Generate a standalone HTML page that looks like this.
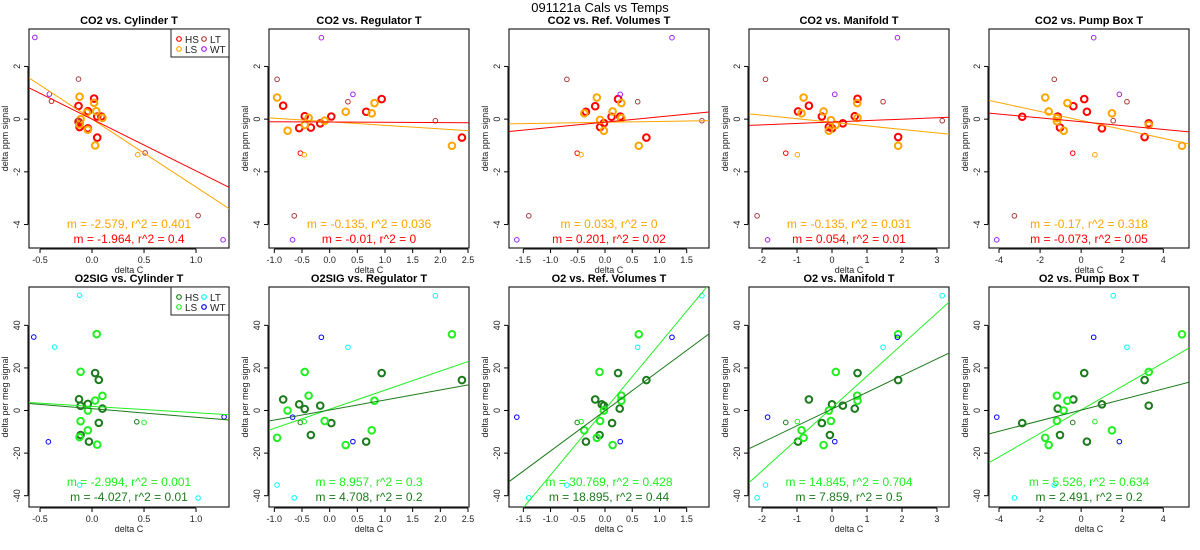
<!DOCTYPE html>
<html><head><meta charset="utf-8"><style>
html,body{margin:0;padding:0;background:#fff;}
svg{display:block;font-family:"Liberation Sans",sans-serif;}
</style></head><body>
<svg id="chart" width="1200" height="550" viewBox="0 0 1200 550" xmlns="http://www.w3.org/2000/svg">
<rect width="1200" height="550" fill="#fff"/>
<text x="600" y="12" text-anchor="middle" font-size="13">091121a   Cals vs Temps</text>
</svg>
<script>
// ---- CO2 data (top row) ----
const c1_hs=[[-0.13,0.5],[0.02,0.78],[-0.04,0.3],[0.05,0.1],[0.09,0.1],[-0.13,-0.1],[-0.12,-0.3],[-0.04,-0.35],[0.05,-0.7],[-0.12,-0.15]];
const c1_ls=[[-0.12,0.85],[0.02,0.62],[0.04,0.3],[-0.05,0.25],[-0.11,0.0],[0.1,0.05],[-0.12,-0.2],[-0.04,-0.4],[0.03,-1.0]];
const c1_lt=[[-0.13,1.52],[-0.39,0.68],[-0.13,-0.05],[0.51,-1.28],[1.02,-3.66]];
const c1_lst=[[0.44,-1.35]];
const c1_hst=[];
const c1_wt=[[-0.55,3.1],[-0.41,0.95],[1.26,-4.58]];
const c2_hs=[[-0.84,0.51],[-0.45,0.11],[-0.55,-0.34],[-0.34,-0.32],[-0.17,-0.16],[0.03,0.1],[0.66,0.28],[0.94,0.76],[2.39,-0.7]];
const c2_ls=[[-0.95,0.82],[-0.76,-0.44],[-0.45,-0.22],[-0.38,0.05],[-0.09,-0.06],[0.29,0.28],[0.76,0.22],[0.81,0.61],[2.21,-1.01]];
const c2_lt=[[-0.95,1.51],[0.33,0.66],[1.91,-0.06],[-0.64,-3.67]];
const c2_hst=[[-0.53,-1.29]];
const c2_lst=[[-0.46,-1.35]];
const c2_wt=[[-0.15,3.09],[0.42,0.94],[-0.67,-4.58]];
const c3_hs=[[-0.18,0.49],[-0.35,0.28],[0.12,0.09],[0.24,0.76],[0.28,0.1],[-0.09,-0.3],[-0.02,-0.15],[0.76,-0.7]];
const c3_ls=[[-0.15,0.82],[-0.38,0.22],[-0.09,-0.03],[-0.02,-0.44],[0.14,0.29],[0.3,0.61],[0.3,0.04],[0.62,-1.01]];
const c3_lt=[[-0.7,1.51],[0.6,0.66],[1.78,-0.06],[-1.4,-3.67]];
const c3_hst=[[-0.51,-1.29]];
const c3_lst=[[-0.44,-1.35]];
const c3_wt=[[1.23,3.09],[0.28,0.94],[-1.62,-4.58]];
const c4_hs=[[-0.97,0.29],[-0.66,0.51],[-0.29,0.1],[-0.09,-0.3],[0.0,-0.35],[0.31,-0.16],[0.65,0.11],[0.73,0.77],[1.89,-0.68]];
const c4_ls=[[-0.81,0.82],[-0.87,0.22],[-0.24,0.29],[-0.03,-0.04],[0.11,-0.22],[-0.09,-0.44],[0.72,0.61],[0.73,0.05],[1.89,-1.01]];
const c4_lt=[[-1.9,1.51],[1.46,0.66],[3.15,-0.06],[-2.14,-3.67]];
const c4_hst=[[-1.32,-1.29]];
const c4_lst=[[-0.99,-1.35]];
const c4_wt=[[1.87,3.09],[0.08,0.94],[-1.84,-4.58]];
const c5_hs=[[-2.87,0.09],[-1.14,0.1],[-1.03,-0.32],[-0.38,0.49],[0.15,0.76],[0.28,0.28],[1.01,-0.35],[3.09,-0.68],[3.29,-0.16]];
const c5_ls=[[-1.75,0.82],[-1.58,0.29],[-1.18,0.04],[-1.18,-0.08],[-0.85,-0.44],[-0.67,0.61],[1.5,0.22],[3.29,-0.22],[4.91,-1.01]];
const c5_lt=[[-1.31,1.51],[2.23,0.66],[1.56,-0.06],[-3.25,-3.67]];
const c5_hst=[[-0.41,-1.29]];
const c5_lst=[[0.67,-1.35]];
const c5_wt=[[0.61,3.09],[1.86,0.94],[-4.11,-4.58]];
// ---- O2 data (bottom row) ----
const o1_hs=[[-0.125,5.3],[-0.11,2.2],[-0.04,3.1],[0.03,17.6],[0.065,14.4],[0.1,0.9],[0.065,-5.8],[-0.11,-11.5],[-0.03,-14.6]];
const o1_ls=[[0.045,35.9],[-0.11,18.2],[0.1,6.9],[0.03,4.7],[-0.04,0],[-0.11,-5.0],[-0.04,-9.3],[-0.12,-12.5],[0.05,-16]];
const o1_lt=[[-0.12,54.1],[-0.36,29.8],[1.02,-41.1],[-0.12,-35]];
const o1_hst=[[0.43,-5.3]];
const o1_lst=[[0.5,-5.6]];
const o1_wt=[[-0.56,34.5],[-0.42,-14.7],[1.27,-3.0]];
const o2_hs=[[-0.84,5.2],[-0.55,2.9],[-0.45,0.7],[-0.34,-11.5],[-0.17,2.3],[0.03,-5.9],[0.66,-14.6],[0.94,17.6],[2.39,14.3]];
const o2_ls=[[-0.95,-12.8],[-0.76,0],[-0.45,18.1],[-0.38,7.0],[-0.09,-4.9],[0.29,-16.2],[0.76,-9.3],[0.81,4.6],[2.21,35.8]];
const o2_lt=[[1.91,53.9],[0.33,29.7],[-0.95,-35],[-0.64,-41]];
const o2_hst=[[-0.53,-5.6]];
const o2_lst=[[-0.46,-5.2]];
const o2_wt=[[-0.15,34.4],[0.42,-14.6],[-0.67,-3.1]];
const o3_hs=[[-0.18,5.2],[-0.35,-14.6],[-0.06,2.9],[-0.1,-11.5],[-0.02,2.3],[0.13,-5.9],[0.24,17.6],[0.27,0.9],[0.76,14.3]];
const o3_ls=[[-0.1,18.1],[0.3,7.0],[0.3,4.6],[-0.02,0],[-0.09,-4.9],[-0.38,-9.3],[-0.15,-12.8],[0.14,-16.2],[0.62,35.8]];
const o3_lt=[[1.78,53.9],[0.6,29.7],[-0.7,-35],[-1.4,-41]];
const o3_hst=[[-0.51,-5.6]];
const o3_lst=[[-0.44,-5.2]];
const o3_wt=[[1.23,34.4],[0.28,-14.6],[-1.62,-3.1]];
const o4_hs=[[-0.66,5.2],[-0.97,-14.6],[0.0,2.9],[-0.06,-11.5],[0.31,2.3],[-0.29,-5.9],[0.73,17.6],[0.65,0.9],[1.89,14.3]];
const o4_ls=[[0.11,18.1],[0.72,7.0],[0.73,4.6],[-0.09,0],[-0.03,-4.9],[-0.87,-9.3],[-0.81,-12.8],[-0.24,-16.2],[1.89,35.8]];
const o4_lt=[[3.15,53.9],[1.46,29.7],[-1.9,-35],[-2.14,-41]];
const o4_hst=[[-1.32,-5.6]];
const o4_lst=[[-0.99,-5.2]];
const o4_wt=[[1.87,34.4],[0.08,-14.6],[-1.84,-3.1]];
const o5_hs=[[-2.87,-5.9],[-1.14,0.9],[-1.03,-11.5],[-0.38,5.2],[0.15,17.6],[0.28,-14.6],[1.01,2.9],[3.09,14.3],[3.29,2.3]];
const o5_ls=[[-1.75,-12.8],[-1.58,-16.2],[-1.18,7.0],[-1.18,-4.9],[-0.85,0],[-0.67,4.6],[1.5,-9.3],[3.29,18.1],[4.91,35.8]];
const o5_lt=[[1.56,53.9],[2.23,29.7],[-1.31,-35],[-3.25,-41]];
const o5_hst=[[-0.41,-5.6]];
const o5_lst=[[0.67,-5.2]];
const o5_wt=[[0.61,34.4],[1.86,-14.6],[-4.11,-3.1]];
// ---- regression lines: [slope, intercept] ----
const fitLS=[[-2.579,0],[-0.135,-0.1],[0.033,-0.12],[-0.135,-0.12],[-0.17,-0.05],[-2.994,1.95],[8.957,0.6],[30.769,0.5],[14.845,1.3],[5.526,0.3]];
const fitHS=[[-1.964,0],[-0.01,-0.11],[0.201,-0.115],[0.054,-0.11],[-0.073,-0.1],[-4.027,0.86],[4.708,0.23],[18.895,-0.1],[7.859,0.7],[2.491,0.2]];
const labelLS=["m = -2.579, r^2 = 0.401","m = -0.135, r^2 = 0.036","m = 0.033, r^2 = 0","m = -0.135, r^2 = 0.031","m = -0.17, r^2 = 0.318","m = -2.994, r^2 = 0.001","m = 8.957, r^2 = 0.3","m = 30.769, r^2 = 0.428","m = 14.845, r^2 = 0.704","m = 5.526, r^2 = 0.634"];
const labelHS=["m = -1.964, r^2 = 0.4","m = -0.01, r^2 = 0","m = 0.201, r^2 = 0.02","m = 0.054, r^2 = 0.01","m = -0.073, r^2 = 0.05","m = -4.027, r^2 = 0.01","m = 4.708, r^2 = 0.2","m = 18.895, r^2 = 0.44","m = 7.859, r^2 = 0.5","m = 2.491, r^2 = 0.2"];
const titles=["CO2 vs. Cylinder T","CO2 vs. Regulator T","CO2 vs. Ref. Volumes T","CO2 vs. Manifold T","CO2 vs. Pump Box T","O2SIG vs. Cylinder T","O2SIG vs. Regulator T","O2 vs. Ref. Volumes T","O2 vs. Manifold T","O2 vs. Pump Box T"];
const xDomains=[[-0.606,1.317],[-1.096,2.518],[-1.763,1.91],[-2.371,3.343],[-4.487,5.251]];
const xTicks=[[-0.5,0,0.5,1.0],[-1,-0.5,0,0.5,1,1.5,2,2.5],[-1.5,-1,-0.5,0,0.5,1,1.5],[-2,-1,0,1,2,3],[-4,-2,0,2,4]];
const xTickDecimals=[1,1,1,0,0];
const yDomainCO2=[-4.89,3.42], yTicksCO2=[-4,-2,0,2];
const yDomainO2=[-45.3,58], yTicksO2=[-40,-20,0,20,40];
const groupsCO2=[[c1_hs,c1_ls,c1_lt,c1_wt,c1_hst,c1_lst],[c2_hs,c2_ls,c2_lt,c2_wt,c2_hst,c2_lst],[c3_hs,c3_ls,c3_lt,c3_wt,c3_hst,c3_lst],[c4_hs,c4_ls,c4_lt,c4_wt,c4_hst,c4_lst],[c5_hs,c5_ls,c5_lt,c5_wt,c5_hst,c5_lst]];
const groupsO2=[[o1_hs,o1_ls,o1_lt,o1_wt,o1_hst,o1_lst],[o2_hs,o2_ls,o2_lt,o2_wt,o2_hst,o2_lst],[o3_hs,o3_ls,o3_lt,o3_wt,o3_hst,o3_lst],[o4_hs,o4_ls,o4_lt,o4_wt,o4_hst,o4_lst],[o5_hs,o5_ls,o5_lt,o5_wt,o5_hst,o5_lst]];
const groupNames=["hs","ls","lt","wt","hs-thin","ls-thin"];

const NS="http://www.w3.org/2000/svg";
const svg=document.getElementById('chart');
function mk(tag,attrs,parent){const e=document.createElementNS(NS,tag);for(const k in attrs)e.setAttribute(k,attrs[k]);(parent||svg).appendChild(e);return e;}
const colsTop=["#ff0000","#ffa500","#b03a3a","#a020f0","#ff0000","#ffa500"];
const colsBot=["#1b7a1b","#22ee22","#00ffff","#0000ff","#1b7a1b","#22ee22"];

for(let p=0;p<10;p++){
  const row=p<5?0:1, col=p%5;
  const L=29+240*col, R=229+240*col;
  const T=row?287:29, B=row?507:248;
  const xd=xDomains[col], yd=row?yDomainO2:yDomainCO2;
  const sx=v=>L+(v-xd[0])/(xd[1]-xd[0])*(R-L);
  const sy=v=>B-(v-yd[0])/(yd[1]-yd[0])*(B-T);
  const cols=row?colsBot:colsTop;
  const g=mk('g',{});
  
  
  const cid='clip'+p;
  const cp=mk('clipPath',{id:cid},g);mk('rect',{x:L,y:T,width:R-L,height:B-T},cp);
  const t=mk('text',{x:(L+R)/2,y:T-5,'text-anchor':'middle','font-size':'11','font-weight':'bold'},g);
  t.textContent=titles[p];
  
  
  const xa=mk('g',{},g);
  
  
  const tks=xTicks[col];
  mk('line',{x1:sx(tks[0]),x2:sx(tks[tks.length-1]),y1:B+1,y2:B+1,stroke:'#000','stroke-width':1},xa);
  tks.forEach(v=>{mk('line',{x1:sx(v),x2:sx(v),y1:B+1,y2:B+5,stroke:'#000'},xa);
    const tl=mk('text',{x:sx(v),y:B+15,'text-anchor':'middle','font-size':'9',fill:'#222'},xa);tl.textContent=v.toFixed(xTickDecimals[col]);
    
    });
  const xt=mk('text',{x:(L+R)/2,y:B+25,'text-anchor':'middle','font-size':'9',fill:'#222'},g);xt.textContent='delta C';
  
  
  const ya=mk('g',{},g);
  
  
  const yt=row?yTicksO2:yTicksCO2;
  mk('line',{x1:L-1,x2:L-1,y1:sy(yt[0]),y2:sy(yt[yt.length-1]),stroke:'#000'},ya);
  yt.forEach(v=>{mk('line',{x1:L-5,x2:L-1,y1:sy(v),y2:sy(v),stroke:'#000'},ya);
    const tl=mk('text',{x:0,y:0,'text-anchor':'middle','font-size':'9',fill:'#222',transform:`translate(${L-9},${sy(v)}) rotate(-90)`},ya);tl.textContent=String(v);
    
    });
  const ylab=mk('text',{x:0,y:0,'text-anchor':'middle','font-size':'9',fill:'#222',transform:`translate(${L-21},${(T+B)/2}) rotate(-90)`},g);
  ylab.textContent=row?'delta per meg signal':'delta ppm signal';
  
  
  mk('rect',{x:L,y:T,width:R-L,height:B-T,fill:'none',stroke:'#222','stroke-width':1.2},g);
  const gs=row?groupsO2[col]:groupsCO2[col];
  gs.forEach((pts,gi)=>{
    const bold=gi<2;
    pts.forEach(pt=>{const c=mk('circle',{cx:sx(pt[0]),cy:sy(pt[1]),r:bold?3.3:2.3,fill:'none',stroke:cols[gi],'stroke-width':bold?2:1,'clip-path':`url(#${cid})`},g);
      
      });
  });
  [[fitLS[p],cols[1]],[fitHS[p],cols[0]]].forEach((f,i)=>{
    const ln=mk('line',{x1:sx(xd[0]),y1:sy(f[0][1]+f[0][0]*xd[0]),x2:sx(xd[1]),y2:sy(f[0][1]+f[0][0]*xd[1]),stroke:f[1],'stroke-width':1,'clip-path':`url(#${cid})`},g);
    
    
  });
  const a1=mk('text',{x:(L+R)/2,y:row?486:228,'text-anchor':'middle','font-size':'12',fill:cols[1]},g);a1.textContent=labelLS[p];
  
  
  const a2=mk('text',{x:(L+R)/2,y:row?501:243,'text-anchor':'middle','font-size':'12',fill:cols[0]},g);a2.textContent=labelHS[p];
  
  
  if(col===0){
    const lg=mk('g',{},g);
    
    
    mk('rect',{x:171,y:T,width:58,height:28,fill:'#fff',stroke:'#222','stroke-width':1},lg);
    const names=['HS','LT','LS','WT'], ci=[0,2,1,3];
    names.forEach((n,i)=>{const cx=i%2?204:179, cy=T+(i<2?10:20);
      mk('circle',{cx:cx,cy:cy,r:2.3,fill:'none',stroke:cols[ci[i]],'stroke-width':1.2},lg);
      const tx=mk('text',{x:cx+6,y:cy+4,'font-size':'10',fill:'#222'},lg);tx.textContent=n;
      
      });
  }
}
</script>
</body></html>
